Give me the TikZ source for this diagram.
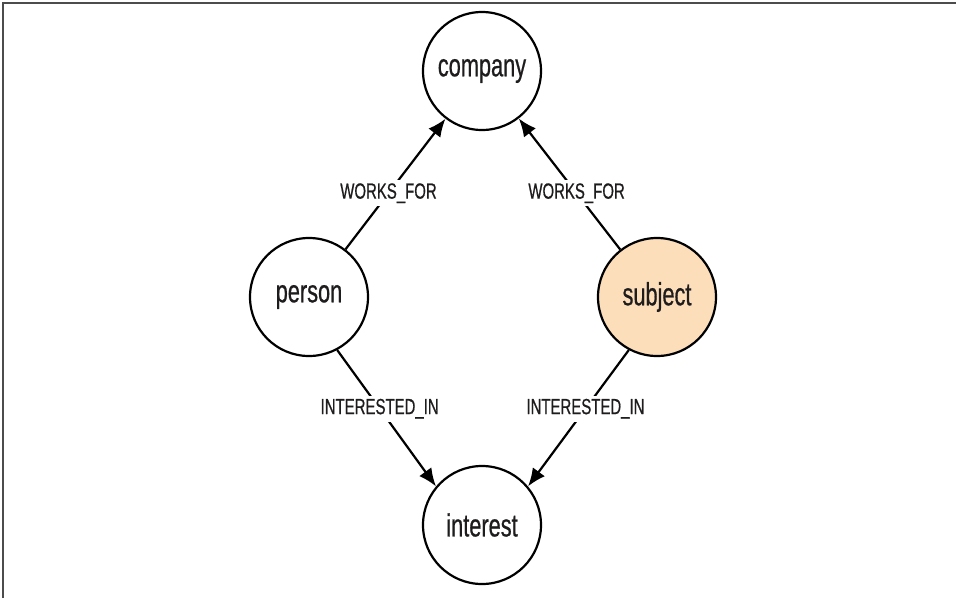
\documentclass[tikz,border=0pt]{standalone}
\usepackage{fontspec}
\setmainfont{Liberation Sans}[FakeStretch=0.68,FakeBold=0.6]
\usetikzlibrary{arrows.meta}
\definecolor{peach}{RGB}{252,222,186}
\definecolor{ink}{RGB}{30,28,28}
\tikzset{
  entity/.style={circle, draw=black, line width=2.2pt, minimum size=118pt, inner sep=0pt, fill=white, font=\fontsize{32}{34}\selectfont, text=ink},
  rel/.style={-{Latex[length=18pt,width=15pt]}, line width=2.2pt, black},
  rellabel/.style={fill=white, inner sep=3pt, font=\fontsize{22}{24}\selectfont, text=ink},
}
\begin{document}
\begin{tikzpicture}[x=1pt,y=-1pt]
\useasboundingbox (0,0) rectangle (956,598);
\draw[line width=2pt, gray!60!black] (2.5,598) -- (2.5,2.5) -- (956,2.5);
\node[entity] (company) at (482,71) {company};
\node[entity] (person) at (309,297) {person};
\node[entity, fill=peach] (subject) at (657,297) {subject};
\node[entity] (interest) at (482,525) {interest};
\draw[rel] (person) -- node[rellabel, pos=0.43] (l1) {WORKS\_FOR} (company);
\draw[rel] (subject) -- node[rellabel, pos=0.43] (l2) {WORKS\_FOR} (company);
\draw[rel] (person.-62) -- node[rellabel, pos=0.43] (l3) {INTERESTED\_IN} (interest.140);
\draw[rel] (subject.-118) -- node[rellabel, pos=0.43] (l4) {INTERESTED\_IN} (interest.40);
\end{tikzpicture}
\end{document}
